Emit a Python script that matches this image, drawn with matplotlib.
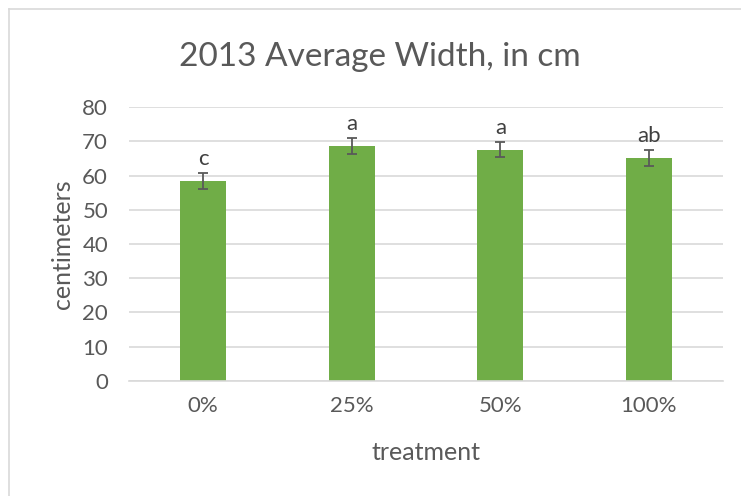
import matplotlib
matplotlib.use("Agg")
from matplotlib import pyplot as plt
from matplotlib.lines import Line2D
import numpy as np

treatments = ["0%", "25%", "50%", "100%"]
widths = [58.5, 68.6, 67.6, 65.1]  # average width, cm
errors = [2.3, 2.3, 2.3, 2.3]
letters = ["c", "a", "a", "ab"]

plt.rcParams["font.family"] = ["Lato", "DejaVu Sans"]
gray = "#595959"

fig = plt.figure(figsize=(7.41, 4.96), dpi=100)
ax = fig.add_axes([0.174, 0.232, 0.802, 0.552])

x = np.arange(len(treatments))
ax.bar(x, widths, width=0.31, color="#70AD47", zorder=2)
ax.errorbar(x, widths, yerr=errors, fmt="none", ecolor=gray, elinewidth=1.3,
            capsize=3.6, capthick=1.3, zorder=3)

# significance letters above the error bars
for xi, w, e, lab in zip(x, widths, errors, letters):
    ax.annotate(lab, (xi, w + e), xytext=(0, 3), textcoords="offset points",
                ha="center", va="bottom", fontsize=16, color="#404040")

ax.set_xlim(-0.5, len(treatments) - 0.5)
ax.set_ylim(0, 80)
ax.set_yticks(range(0, 81, 10))
ax.set_xticks(x)
ax.set_xticklabels(treatments)
ax.grid(axis="y", color="#d9d9d9", linewidth=1.2, zorder=0)
for s in ["top", "right", "left"]:
    ax.spines[s].set_visible(False)
ax.spines["bottom"].set_color("#d9d9d9")
ax.spines["bottom"].set_linewidth(1.2)
ax.tick_params(axis="both", length=0, labelsize=16, labelcolor=gray)
ax.tick_params(axis="y", pad=15)
ax.tick_params(axis="x", pad=11)

ax.set_xlabel("treatment", fontsize=18, color=gray, labelpad=18)
ax.set_ylabel("centimeters", fontsize=18, color=gray, labelpad=6)
fig.suptitle("2013 Average Width, in cm", x=0.513, y=0.915, fontsize=24,
             color=gray)

# chart border (only top and left visible)
fig.add_artist(Line2D([0.012, 1.0], [0.982, 0.982], color="#d9d9d9", linewidth=1.2))
fig.add_artist(Line2D([0.012, 0.012], [0.0, 0.982], color="#d9d9d9", linewidth=1.2))

fig.savefig("out.png", dpi=100)
